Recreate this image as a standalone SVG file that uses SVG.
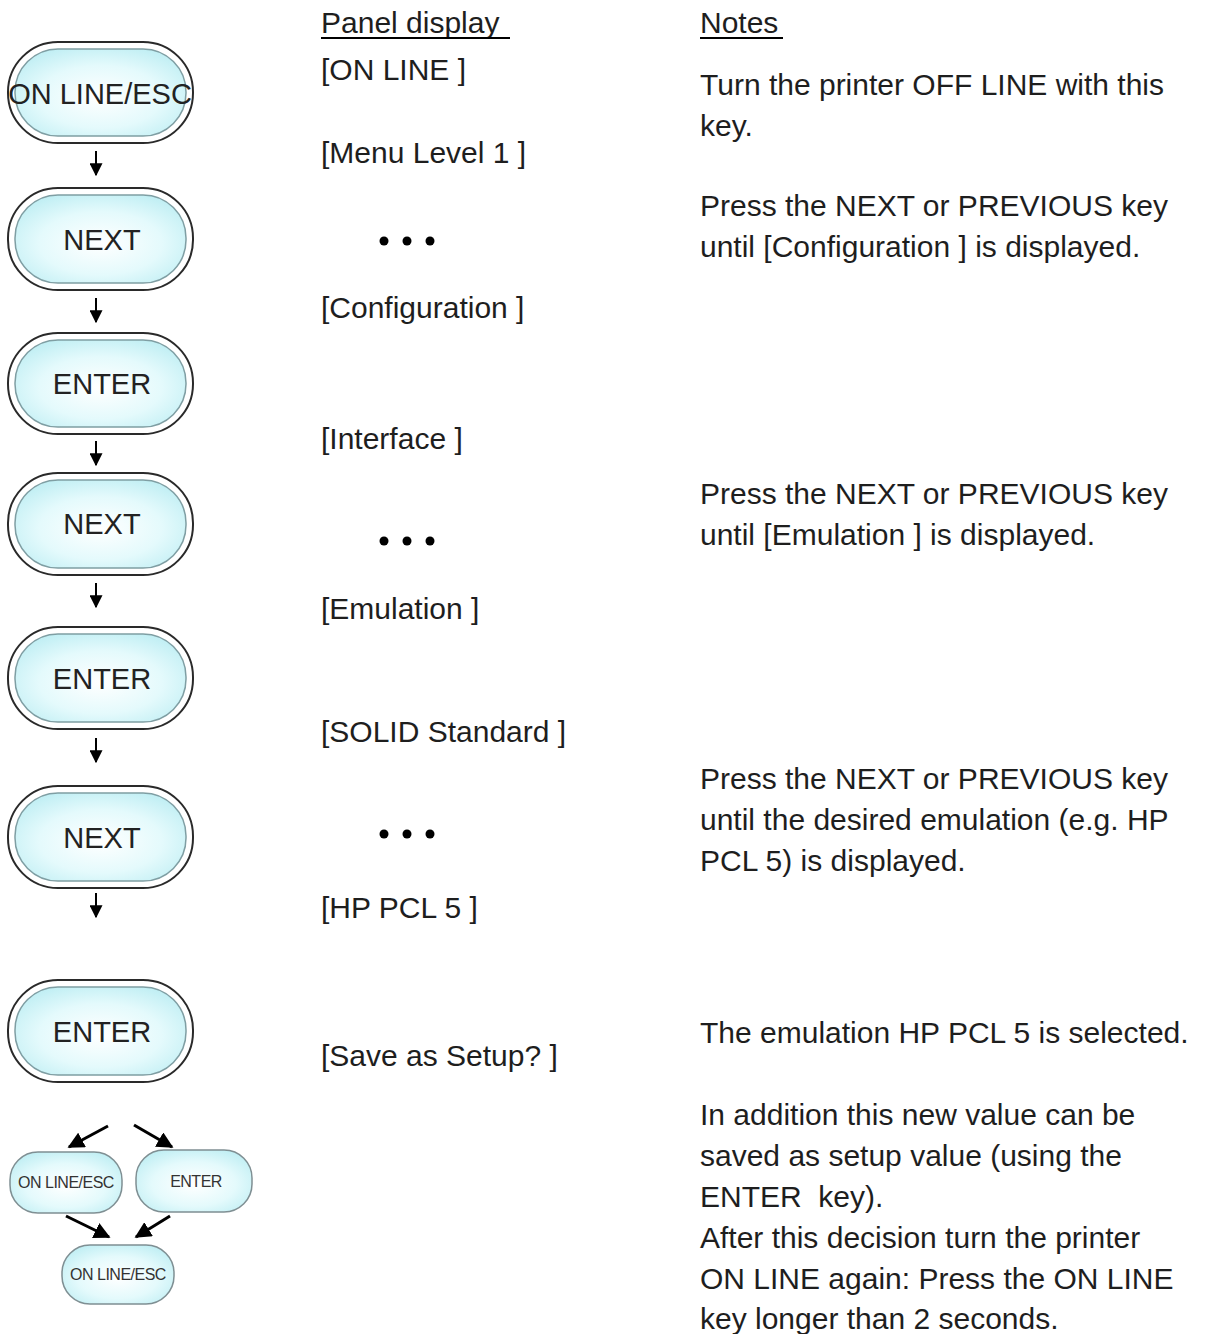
<svg xmlns="http://www.w3.org/2000/svg" width="1226" height="1334" viewBox="0 0 1226 1334">
<defs>
<radialGradient id="g" cx="50%" cy="55%" r="60%">
<stop offset="0" stop-color="#ffffff"/>
<stop offset="0.6" stop-color="#e4fafc"/>
<stop offset="1" stop-color="#c2eff4"/>
</radialGradient>
<marker id="ah" viewBox="0 0 10 10" refX="9" refY="5" markerWidth="6.5" markerHeight="6.5" orient="auto" markerUnits="strokeWidth">
<path d="M0,0 L10,5 L0,10 z" fill="#000"/>
</marker>
<marker id="ah2" viewBox="0 0 10 10" refX="9" refY="5" markerWidth="5.5" markerHeight="5.5" orient="auto" markerUnits="strokeWidth">
<path d="M0,0 L10,5 L0,10 z" fill="#000"/>
</marker>
</defs>
<style>
.t{font-family:"Liberation Sans",Arial,sans-serif;font-size:30px;fill:#1e1e1e;white-space:pre}
.b{font-family:"Liberation Sans",Arial,sans-serif;font-size:29px;fill:#222;text-anchor:middle}
.s{font-family:"Liberation Sans",Arial,sans-serif;font-size:16px;fill:#333;text-anchor:middle;letter-spacing:-0.5px}
.o{fill:#fff;stroke:#2a2a2a;stroke-width:2}
.i{fill:url(#g);stroke:#7f9ea3;stroke-width:1.5}
.sm{fill:url(#g);stroke:#7f8f93;stroke-width:1.5}
.c{stroke:#000;stroke-width:2;fill:none}
.c2{stroke:#000;stroke-width:3;fill:none}
</style>
<rect width="1226" height="1334" fill="#fff"/>

<g id="btn1"><rect class="o" x="8" y="42" width="185" height="101" rx="50"/><rect class="i" x="15" y="49" width="171" height="87" rx="43"/><text class="b" x="100" y="104">ON LINE/ESC</text></g>
<g id="btn2"><rect class="o" x="8" y="188" width="185" height="102" rx="50"/><rect class="i" x="15" y="195" width="171" height="88" rx="43"/><text class="b" x="102" y="250">NEXT</text></g>
<g id="btn3"><rect class="o" x="8" y="333" width="185" height="101" rx="50"/><rect class="i" x="15" y="340" width="171" height="87" rx="43"/><text class="b" x="102" y="394">ENTER</text></g>
<g id="btn4"><rect class="o" x="8" y="473" width="185" height="102" rx="50"/><rect class="i" x="15" y="480" width="171" height="88" rx="43"/><text class="b" x="102" y="534">NEXT</text></g>
<g id="btn5"><rect class="o" x="8" y="627" width="185" height="102" rx="50"/><rect class="i" x="15" y="634" width="171" height="88" rx="43"/><text class="b" x="102" y="689">ENTER</text></g>
<g id="btn6"><rect class="o" x="8" y="786" width="185" height="102" rx="50"/><rect class="i" x="15" y="793" width="171" height="88" rx="43"/><text class="b" x="102" y="848">NEXT</text></g>
<g id="btn7"><rect class="o" x="8" y="980" width="185" height="102" rx="50"/><rect class="i" x="15" y="987" width="171" height="88" rx="43"/><text class="b" x="102" y="1042">ENTER</text></g>

<g id="sbtn1"><rect class="sm" x="10" y="1152" width="112" height="61" rx="28"/><text class="s" x="66" y="1188">ON LINE/ESC</text></g>
<g id="sbtn2"><rect class="sm" x="136" y="1150" width="116" height="62" rx="28"/><text class="s" x="196" y="1187">ENTER</text></g>
<g id="sbtn3"><rect class="sm" x="62" y="1245" width="112" height="59" rx="28"/><text class="s" x="118" y="1280">ON LINE/ESC</text></g>

<g id="connectors">
<line class="c" x1="96" y1="151" x2="96" y2="175" marker-end="url(#ah)"/>
<line class="c" x1="96" y1="298" x2="96" y2="322" marker-end="url(#ah)"/>
<line class="c" x1="96" y1="441" x2="96" y2="465" marker-end="url(#ah)"/>
<line class="c" x1="96" y1="583" x2="96" y2="607" marker-end="url(#ah)"/>
<line class="c" x1="96" y1="738" x2="96" y2="762" marker-end="url(#ah)"/>
<line class="c" x1="96" y1="893" x2="96" y2="917" marker-end="url(#ah)"/>
<line class="c2" x1="108" y1="1126" x2="69" y2="1147" marker-end="url(#ah2)"/>
<line class="c2" x1="134" y1="1125" x2="172" y2="1147" marker-end="url(#ah2)"/>
<line class="c2" x1="66" y1="1216" x2="109" y2="1237" marker-end="url(#ah2)"/>
<line class="c2" x1="170" y1="1216" x2="136" y2="1237" marker-end="url(#ah2)"/>
</g>

<g id="panel">
<text class="t" x="321" y="33">Panel display</text>
<line x1="321" y1="38" x2="510" y2="38" stroke="#000" stroke-width="2"/>
<text class="t" x="321" y="80">[ON LINE ]</text>
<text class="t" x="321" y="163">[Menu Level 1 ]</text>
<text class="t" x="321" y="318">[Configuration ]</text>
<text class="t" x="321" y="449">[Interface ]</text>
<text class="t" x="321" y="619">[Emulation ]</text>
<text class="t" x="321" y="742">[SOLID Standard ]</text>
<text class="t" x="321" y="918">[HP PCL 5 ]</text>
<text class="t" x="321" y="1066">[Save as Setup? ]</text>
<g fill="#000">
<circle cx="384" cy="241" r="4.5"/><circle cx="407" cy="241" r="4.5"/><circle cx="430" cy="241" r="4.5"/>
<circle cx="384" cy="541" r="4.5"/><circle cx="407" cy="541" r="4.5"/><circle cx="430" cy="541" r="4.5"/>
<circle cx="384" cy="834" r="4.5"/><circle cx="407" cy="834" r="4.5"/><circle cx="430" cy="834" r="4.5"/>
</g>
</g>

<g id="notes">
<text class="t" x="700" y="33">Notes</text>
<line x1="700" y1="38" x2="783" y2="38" stroke="#000" stroke-width="2"/>
<text class="t" x="700" y="95">Turn the printer OFF LINE with this</text>
<text class="t" x="700" y="136">key.</text>
<text class="t" x="700" y="216">Press the NEXT or PREVIOUS key</text>
<text class="t" x="700" y="257">until [Configuration ] is displayed.</text>
<text class="t" x="700" y="504">Press the NEXT or PREVIOUS key</text>
<text class="t" x="700" y="545">until [Emulation ] is displayed.</text>
<text class="t" x="700" y="789">Press the NEXT or PREVIOUS key</text>
<text class="t" x="700" y="830">until the desired emulation (e.g. HP</text>
<text class="t" x="700" y="871">PCL 5) is displayed.</text>
<text class="t" x="700" y="1043">The emulation HP PCL 5 is selected.</text>
<text class="t" x="700" y="1125">In addition this new value can be</text>
<text class="t" x="700" y="1166">saved as setup value (using the</text>
<text class="t" x="700" y="1207">ENTER  key).</text>
<text class="t" x="700" y="1248">After this decision turn the printer</text>
<text class="t" x="700" y="1289">ON LINE again: Press the ON LINE</text>
<text class="t" x="700" y="1329">key longer than 2 seconds.</text>
</g>
</svg>
